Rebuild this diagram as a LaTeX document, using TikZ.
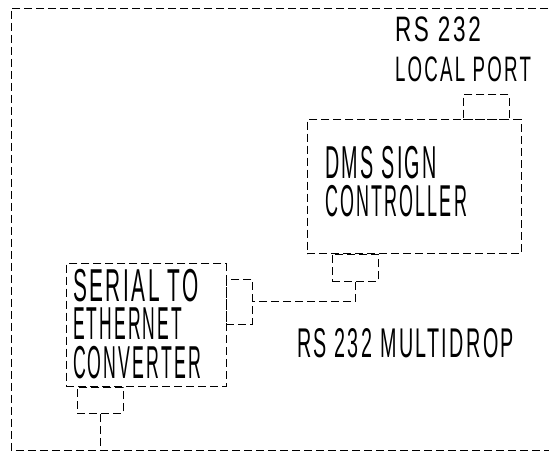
\documentclass[tikz,border=0pt]{standalone}
\usepackage{fontspec}
\setmainfont[LetterSpace=12]{Liberation Sans}
% width (px), cap height (px), text
\newcommand\cadtxt[3]{{\fontsize{\fpeval{#2/0.65}pt}{\fpeval{#2/0.65*1.2}pt}\selectfont\raisebox{0pt}[#2pt][0pt]{\resizebox{#1pt}{\height}{#3}}}}
\tikzset{
  cad/.style={draw=black, line width=0.8pt, dash pattern=on 8pt off 4pt},
  lbl/.style={anchor=base west, inner sep=0pt, outer sep=0pt}
}
\begin{document}
\begin{tikzpicture}[x=1pt,y=1pt]
\useasboundingbox (0,0) rectangle (549,452);
\fill[white] (0,0) rectangle (549,452);
% outer frame (right side beyond page)
\draw[cad] (560,444) -- (11,444) -- (11,2) -- (560,2);
\coordinate (fb) at (100,2);
% DMS controller
\node[cad, minimum width=214pt, minimum height=134pt, inner sep=0, anchor=south west] (dms) at (307,198) {};
\node[cad, minimum width=46pt, minimum height=25pt, inner sep=0, anchor=south west] (lport) at (463,332) {};
\node[cad, minimum width=46pt, minimum height=27pt, inner sep=0, anchor=north west] (dport) at (332,198) {};
% converter
\node[cad, minimum width=160pt, minimum height=123pt, inner sep=0, anchor=south west] (conv) at (66,65) {};
\node[cad, minimum width=26pt, minimum height=45pt, inner sep=0, anchor=west] (rport) at (226,150.5) {};
\node[cad, minimum width=46pt, minimum height=26pt, inner sep=0, anchor=north west] (bport) at (77,65) {};
% connectors
\draw[cad] (dport.south) -- (dport.south |- rport.east) -- (rport.east);
\draw[cad] (bport.south) -- (bport.south |- fb);
% texts
\node[lbl] (t1) at (395,410) {\cadtxt{86}{23}{RS 232}};
\node[lbl] (t2) at (395,370) {\cadtxt{136}{23}{LOCAL PORT}};
\node[lbl] (t3) at (325,273) {\cadtxt{112}{30}{DMS SIGN}};
\node[lbl] (t4) at (325,235) {\cadtxt{142}{29}{CONTROLLER}};
\node[lbl] (t5) at (73,150) {\cadtxt{126}{30}{SERIAL TO}};
\node[lbl] (t6) at (73,112) {\cadtxt{109}{30}{ETHERNET}};
\node[lbl] (t7) at (73,73) {\cadtxt{128}{30}{CONVERTER}};
\node[lbl] (t8) at (297,94) {\cadtxt{217}{27}{RS 232 MULTIDROP}};
\end{tikzpicture}
\end{document}
